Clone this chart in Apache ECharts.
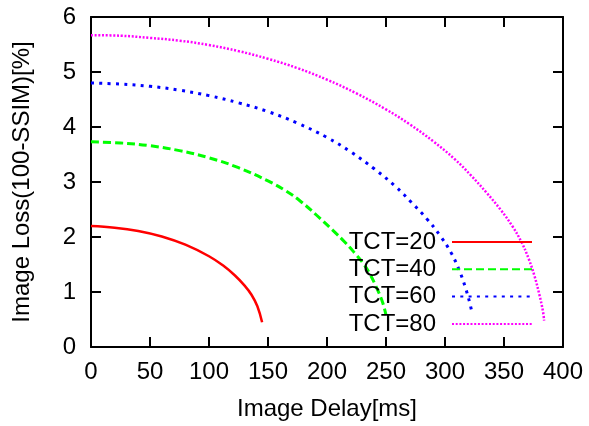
<!DOCTYPE html>
<html>
<head>
<meta charset="utf-8">
<script src="https://cdn.jsdelivr.net/npm/echarts@6/dist/echarts.min.js"></script>
<style>
  html, body { margin: 0; padding: 0; background: #fff; }
  #chart { width: 589px; height: 426px; }
</style>
</head>
<body>
<div id="chart"></div>
<script>
// values: [delay ms, loss %]
const tct20 = [[0, 2.20], [20, 2.17], [40, 2.11], [60, 2.01], [80, 1.86], [100, 1.65], [112, 1.48], [122, 1.30], [130, 1.12], [136, 0.95], [141, 0.74], [145, 0.45]]
const tct40 = [[0, 3.73], [25, 3.71], [50, 3.66], [75, 3.57], [100, 3.44], [125, 3.26], [150, 3.02], [165, 2.84], [177, 2.66], [191, 2.40], [205, 2.12], [215, 1.91], [223, 1.72], [230, 1.54], [236, 1.34], [242, 1.08], [247, 0.82], [250, 0.58]]
const tct60 = [[0, 4.80], [25, 4.78], [50, 4.74], [75, 4.67], [100, 4.57], [125, 4.44], [150, 4.28], [175, 4.07], [200, 3.81], [220, 3.55], [240, 3.24], [258, 2.92], [272, 2.62], [285, 2.32], [296, 2.02], [305, 1.72], [312, 1.40], [317, 1.10], [321, 0.80], [323, 0.61]]
const tct80 = [[0, 5.67], [25, 5.66], [50, 5.62], [75, 5.57], [100, 5.49], [125, 5.38], [150, 5.24], [175, 5.07], [200, 4.86], [225, 4.61], [250, 4.32], [270, 4.05], [290, 3.74], [308, 3.42], [322, 3.12], [335, 2.81], [347, 2.50], [357, 2.20], [365, 1.90], [371, 1.60], [376, 1.28], [380, 0.95], [383, 0.65], [384, 0.48]]
const seriesNames = ['TCT=20', 'TCT=40', 'TCT=60', 'TCT=80']

const chart = echarts.init(document.getElementById('chart'))

const font = 'Liberation Sans, Arial, sans-serif'
const black = '#000'

function frameAxis(extra) {
  return Object.assign({
    type: 'value',
    axisLine: { show: true, onZero: false, lineStyle: { color: black, width: 2 } },
    axisTick: { show: true, inside: true, length: 10, lineStyle: { color: black, width: 2 } },
    splitLine: { show: false }
  }, extra)
}

function lineSeries(name, data, color, width, dash) {
  return {
    name: name,
    type: 'line',
    data: data,
    symbol: 'none',
    smooth: 0.4,
    lineStyle: { color: color, width: width, type: dash },
    itemStyle: { color: color }
  }
}

const option = {
  backgroundColor: '#fff',
  animation: false,
  grid: {
    left: 91,
    right: 26,
    top: 17,
    bottom: 77
  },
  legend: {
    data: seriesNames,
    orient: 'vertical',
    align: 'right',
    right: 56,
    top: 230,
    padding: 0,
    itemWidth: 80,
    itemHeight: 14,
    itemGap: 3.3,
    itemStyle: { opacity: 0 },
    textStyle: {
      color: black,
      fontFamily: font,
      fontSize: 24,
      lineHeight: 24,
      padding: [0, 11, 0, 0]
    }
  },
  xAxis: [
    frameAxis({
      min: 0,
      max: 400,
      interval: 50,
      position: 'bottom',
      name: 'Image Delay[ms]',
      nameLocation: 'middle',
      nameGap: 50,
      nameTextStyle: { color: black, fontFamily: font, fontSize: 24 },
      axisLabel: { color: black, fontFamily: font, fontSize: 24, margin: 13 }
    }),
    frameAxis({
      min: 0,
      max: 400,
      interval: 50,
      position: 'top',
      axisLabel: { show: false }
    })
  ],
  yAxis: [
    frameAxis({
      min: 0,
      max: 6,
      interval: 1,
      position: 'left',
      name: 'Image Loss(100-SSIM)[%]',
      nameLocation: 'middle',
      nameGap: 57,
      nameTextStyle: { color: black, fontFamily: font, fontSize: 24 },
      axisLabel: { color: black, fontFamily: font, fontSize: 24, margin: 15 }
    }),
    frameAxis({
      min: 0,
      max: 6,
      interval: 1,
      position: 'right',
      axisLabel: { show: false }
    })
  ],
  series: [
    lineSeries('TCT=20', tct20, '#ff0000', 2.5, 'solid'),
    lineSeries('TCT=40', tct40, '#00ff00', 3, [8, 4]),
    lineSeries('TCT=60', tct60, '#0000ff', 3, [3, 5.3]),
    lineSeries('TCT=80', tct80, '#ff00ff', 2.5, [2, 1.7])
  ]
}

chart.setOption(option)
</script>
</body>
</html>
